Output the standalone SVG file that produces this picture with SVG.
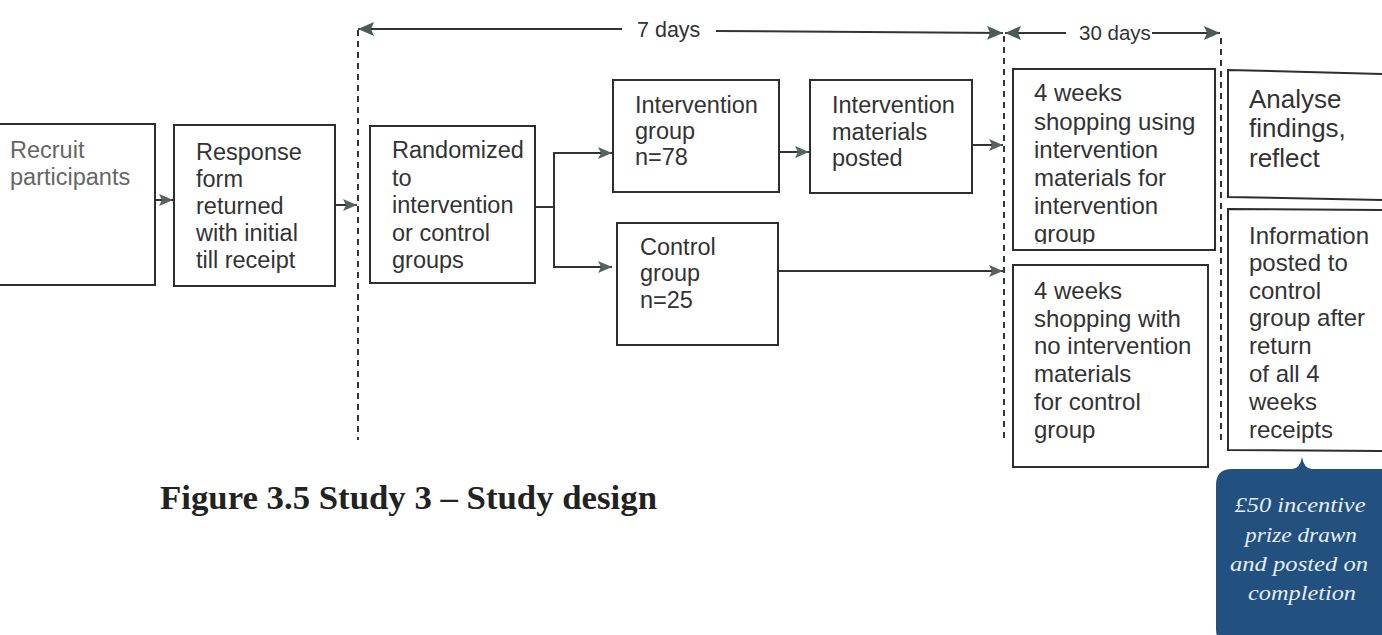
<svg xmlns="http://www.w3.org/2000/svg" width="1382" height="635" viewBox="0 0 1382 635">
<defs>
<style>
.box{fill:#fff;stroke:#2e2e2e;stroke-width:2}
.t{font-family:"Liberation Sans",Arial,sans-serif;font-size:23.5px;fill:#333}
.tl{font-family:"Liberation Sans",Arial,sans-serif;font-size:23.5px;fill:#666}
.tr{font-family:"Liberation Sans",Arial,sans-serif;font-size:24px;fill:#333}
.conn{fill:none;stroke:#333;stroke-width:2}
.dash{fill:none;stroke:#333;stroke-width:2;stroke-dasharray:6 5}
.tline{fill:none;stroke:#333;stroke-width:2}
.cap{font-family:"Liberation Serif","Times New Roman",serif;font-weight:bold;font-size:34px;fill:#222}
.call{font-family:"Liberation Serif","DejaVu Serif",serif;font-style:italic;font-size:22px;fill:#e6edf5;text-anchor:middle}
</style>
<marker id="ah" viewBox="0 0 14 12" refX="14" refY="6" markerWidth="14" markerHeight="12" markerUnits="userSpaceOnUse" orient="auto-start-reverse">
<path d="M0,0 L14,6 L0,12 L3,6 z" fill="#56635f"/>
</marker>
<marker id="ahT" viewBox="0 0 16 14" refX="16" refY="7" markerWidth="16" markerHeight="14" markerUnits="userSpaceOnUse" orient="auto-start-reverse">
<path d="M0,0 L16,7 L0,14 L3,7 z" fill="#4a5c57"/>
</marker>
<clipPath id="clipG"><rect x="1013" y="69" width="202" height="175"/></clipPath>
</defs>
<rect width="1382" height="635" fill="#fff"/>

<g id="connectors">
<line class="dash" x1="358" y1="30" x2="358" y2="440"/>
<line class="dash" x1="1004" y1="36" x2="1004" y2="440"/>
<line class="dash" x1="1221" y1="38" x2="1221" y2="440"/>
<line class="tline" x1="622" y1="29" x2="358" y2="29" marker-end="url(#ahT)"/>
<line class="tline" x1="716" y1="31" x2="1003" y2="33" marker-end="url(#ahT)"/>
<line class="tline" x1="1066" y1="33" x2="1005" y2="33" marker-end="url(#ahT)"/>
<line class="tline" x1="1152" y1="33" x2="1220" y2="33" marker-end="url(#ahT)"/>
<text class="t" x="637" y="37" style="font-size:21.5px">7 days</text>
<text class="t" x="1079" y="40" style="font-size:20.5px">30 days</text>
<line class="conn" x1="155" y1="200" x2="173" y2="200" marker-end="url(#ah)"/>
<line class="conn" x1="336" y1="205" x2="357" y2="205" marker-end="url(#ah)"/>
<polyline class="conn" points="535,207 554,207 554,153 612,153" marker-end="url(#ah)"/>
<polyline class="conn" points="554,207 554,267 612,267" marker-end="url(#ah)"/>
<line class="conn" x1="779" y1="152" x2="809" y2="152" marker-end="url(#ah)"/>
<line class="conn" x1="972" y1="145" x2="1003" y2="145" marker-end="url(#ah)"/>
<line class="conn" x1="778" y1="271" x2="1003" y2="271" marker-end="url(#ah)"/>
</g>

<g id="recruit">
<rect class="box" x="-2" y="124" width="157" height="161"/>
<text class="tl" x="10"><tspan x="10" y="158">Recruit</tspan><tspan x="10" y="185">participants</tspan></text>
</g>

<g id="response">
<rect class="box" x="174" y="125" width="161" height="161"/>
<text class="t"><tspan x="196" y="160">Response</tspan><tspan x="196" y="187">form</tspan><tspan x="196" y="214">returned</tspan><tspan x="196" y="241">with initial</tspan><tspan x="196" y="268">till receipt</tspan></text>
</g>

<g id="randomized">
<rect class="box" x="370" y="126" width="165" height="157"/>
<text class="t"><tspan x="392" y="158">Randomized</tspan><tspan x="392" y="186">to</tspan><tspan x="392" y="213">intervention</tspan><tspan x="392" y="241">or control</tspan><tspan x="392" y="268">groups</tspan></text>
</g>

<g id="intervention-group">
<rect class="box" x="613" y="80" width="166" height="112"/>
<text class="t"><tspan x="635" y="113">Intervention</tspan><tspan x="635" y="139">group</tspan><tspan x="635" y="165">n=78</tspan></text>
</g>

<g id="materials-posted">
<rect class="box" x="810" y="80" width="162" height="113"/>
<text class="t"><tspan x="832" y="113">Intervention</tspan><tspan x="832" y="140">materials</tspan><tspan x="832" y="166">posted</tspan></text>
</g>

<g id="control-group">
<rect class="box" x="617" y="223" width="161" height="122"/>
<text class="t"><tspan x="640" y="255">Control</tspan><tspan x="640" y="281">group</tspan><tspan x="640" y="308">n=25</tspan></text>
</g>

<g id="shopping-intervention">
<rect class="box" x="1013" y="69" width="202" height="181"/>
<text class="tr" clip-path="url(#clipG)"><tspan x="1034" y="101">4 weeks</tspan><tspan x="1034" y="130">shopping using</tspan><tspan x="1034" y="158">intervention</tspan><tspan x="1034" y="186">materials for</tspan><tspan x="1034" y="214">intervention</tspan><tspan x="1034" y="242">group</tspan></text>
</g>

<g id="shopping-control">
<rect class="box" x="1013" y="265" width="195" height="202"/>
<text class="tr"><tspan x="1034" y="299">4 weeks</tspan><tspan x="1034" y="327">shopping with</tspan><tspan x="1034" y="354">no intervention</tspan><tspan x="1034" y="382">materials</tspan><tspan x="1034" y="410">for control</tspan><tspan x="1034" y="438">group</tspan></text>
</g>

<g id="analyse">
<path class="box" d="M1228,70 L1386,74 L1386,200 L1228,197 Z"/>
<text class="tr" style="font-size:26px"><tspan x="1249" y="108">Analyse</tspan><tspan x="1249" y="137">findings,</tspan><tspan x="1249" y="167">reflect</tspan></text>
</g>

<g id="information">
<path class="box" d="M1228,209 L1386,210 L1386,451 L1228,450 Z"/>
<text class="tr"><tspan x="1249" y="244">Information</tspan><tspan x="1249" y="271">posted to</tspan><tspan x="1249" y="299">control</tspan><tspan x="1249" y="326">group after</tspan><tspan x="1249" y="354">return</tspan><tspan x="1249" y="382">of all 4</tspan><tspan x="1249" y="410">weeks</tspan><tspan x="1249" y="438">receipts</tspan></text>
</g>

<g id="incentive-callout">
<path d="M1232,469 L1292,469 Q1300,469 1302,457 Q1304,469 1312,469 L1392,469 L1392,645 L1232,645 Q1216,645 1216,629 L1216,485 Q1216,469 1232,469 Z" fill="#22507f"/>
<text class="call"><tspan x="1300" y="512" textLength="131" lengthAdjust="spacingAndGlyphs">£50 incentive</tspan><tspan x="1301" y="542" textLength="112" lengthAdjust="spacingAndGlyphs">prize drawn</tspan><tspan x="1299" y="571" textLength="138" lengthAdjust="spacingAndGlyphs">and posted on</tspan><tspan x="1302" y="600" textLength="108" lengthAdjust="spacingAndGlyphs">completion</tspan></text>
</g>

<g id="caption">
<text class="cap" x="160" y="509" textLength="497" lengthAdjust="spacingAndGlyphs">Figure 3.5 Study 3 – Study design</text>
</g>
</svg>
